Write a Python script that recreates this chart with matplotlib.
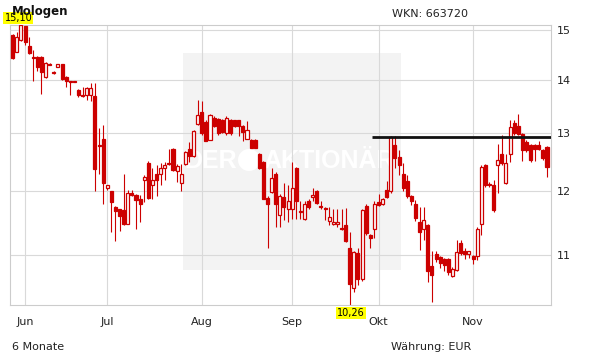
import numpy as np
import matplotlib
matplotlib.use("Agg")
import matplotlib.pyplot as plt
from matplotlib.patches import Rectangle, Ellipse

plt.rcParams['font.family'] = ['DejaVu Sans']

title = "Mologen"
wkn = "WKN: 663720"
period = "6 Monate"
currency = "Währung: EUR"

opens = [14.90, 14.55, 14.80, 15.08, 14.66, 14.44, 14.44, 14.44, 14.05, 14.31,
         14.16, 14.25, 14.30, 14.06, 13.97, 13.97, 13.80, 13.71, 13.70, 13.70,
         13.69, 12.79, 12.90, 12.05, 12.00, 11.75, 11.71, 11.70, 11.48, 11.97,
         11.94, 11.87, 12.19, 12.48, 12.10, 12.30, 12.29, 12.40, 12.48, 12.72,
         12.34, 12.14, 12.47, 12.73, 12.60, 13.18, 13.40, 13.20, 12.89, 13.29,
         13.27, 13.25, 13.00, 13.24, 13.24, 13.24, 13.14, 12.91, 12.89, 12.89,
         12.63, 12.50, 11.90, 11.99, 12.30, 11.62, 11.91, 11.72, 11.72, 12.39,
         11.66, 11.55, 11.85, 11.91, 12.01, 11.77, 11.73, 11.52, 11.48, 11.47,
         11.41, 11.45, 11.10, 10.51, 11.03, 10.63, 11.77, 11.30, 11.40, 11.82,
         11.80, 12.02, 12.00, 12.79, 12.58, 12.30, 12.18, 11.92, 11.80, 11.51,
         11.39, 11.45, 10.82, 11.01, 10.96, 10.93, 10.93, 10.68, 10.77, 11.17,
         11.05, 11.01, 10.98, 10.98, 11.48, 12.44, 12.12, 12.11, 12.45, 12.64,
         12.14, 12.64, 13.19, 13.14, 12.99, 12.85, 12.79, 12.79, 12.79, 12.70,
         12.76]
highs = [14.92, 14.96, 15.10, 15.10, 14.86, 14.58, 14.46, 14.46, 14.34, 14.33,
         14.18, 14.31, 14.31, 14.07, 13.98, 13.98, 13.83, 13.86, 13.86, 13.94,
         13.94, 13.10, 13.15, 12.11, 12.01, 11.77, 11.72, 12.30, 12.02, 12.02,
         11.96, 11.94, 12.28, 12.51, 12.40, 12.45, 12.48, 12.50, 12.73, 12.75,
         12.46, 12.47, 12.69, 12.85, 13.06, 13.61, 13.59, 13.24, 13.36, 13.31,
         13.29, 13.27, 13.31, 13.26, 13.25, 13.25, 13.16, 13.22, 12.90, 12.90,
         12.65, 12.52, 11.93, 12.39, 12.32, 11.96, 12.14, 12.10, 12.50, 12.41,
         11.85, 11.85, 11.88, 12.05, 12.03, 11.84, 11.75, 11.74, 11.72, 11.72,
         11.72, 11.73, 11.34, 11.06, 11.10, 11.72, 11.80, 11.32, 11.84, 11.96,
         11.90, 12.18, 12.95, 12.95, 12.70, 12.48, 12.27, 11.95, 11.86, 11.74,
         11.74, 11.47, 11.05, 11.06, 10.98, 10.95, 10.95, 10.81, 11.22, 11.22,
         11.10, 11.06, 10.99, 11.42, 12.44, 12.46, 12.15, 12.20, 12.82, 12.98,
         12.64, 13.24, 13.24, 13.36, 13.01, 12.88, 12.81, 12.81, 12.86, 12.72,
         12.78]
lows = [14.41, 14.54, 14.78, 14.68, 14.51, 13.98, 14.18, 13.72, 14.03, 14.28,
        14.12, 14.24, 14.00, 13.87, 13.70, 13.95, 13.68, 13.68, 13.61, 13.59,
        12.00, 12.30, 11.80, 12.03, 11.35, 11.20, 11.37, 11.46, 11.47, 11.92,
        11.40, 11.51, 11.83, 11.88, 11.88, 11.93, 12.10, 12.20, 12.45, 12.34,
        12.15, 12.00, 12.45, 12.50, 12.58, 13.15, 12.98, 12.86, 12.88, 13.12,
        12.98, 13.00, 12.98, 12.98, 13.12, 12.95, 12.87, 12.90, 12.74, 12.74,
        12.38, 11.87, 11.10, 11.98, 11.43, 11.42, 11.53, 11.50, 11.55, 11.56,
        11.55, 11.53, 11.72, 11.85, 11.79, 11.71, 11.54, 11.45, 11.46, 11.43,
        11.38, 11.19, 10.26, 10.45, 10.55, 10.60, 11.30, 11.10, 11.25, 11.76,
        11.78, 11.89, 11.98, 12.40, 12.27, 12.00, 11.90, 11.78, 11.52, 11.07,
        11.22, 10.59, 10.30, 10.88, 10.80, 10.75, 10.70, 10.66, 10.75, 11.00,
        10.93, 10.95, 10.85, 10.92, 11.30, 12.08, 12.08, 11.67, 11.97, 12.45,
        12.12, 12.50, 12.98, 12.97, 12.52, 12.68, 12.50, 12.52, 12.71, 12.54,
        12.24]
closes = [14.43, 14.86, 15.10, 14.76, 14.52, 14.42, 14.24, 14.16, 14.32, 14.29,
          14.13, 14.30, 14.02, 13.97, 13.96, 13.96, 13.70, 13.69, 13.85, 13.85,
          12.38, 12.78, 12.14, 12.10, 11.83, 11.68, 11.60, 11.48, 11.98, 11.94,
          11.86, 11.79, 12.25, 11.90, 12.20, 12.20, 12.40, 12.45, 12.46, 12.36,
          12.43, 12.29, 12.67, 12.60, 13.04, 13.34, 13.00, 12.87, 13.34, 13.14,
          13.00, 13.02, 13.29, 13.00, 13.14, 13.14, 13.02, 13.07, 12.75, 12.75,
          12.40, 11.88, 11.80, 12.22, 11.80, 11.93, 11.74, 11.85, 12.05, 11.85,
          11.68, 11.79, 11.75, 11.95, 11.81, 11.74, 11.71, 11.59, 11.51, 11.51,
          11.39, 11.21, 10.56, 11.04, 10.63, 11.69, 11.33, 11.26, 11.80, 11.78,
          11.88, 11.91, 12.94, 12.57, 12.44, 12.05, 11.92, 11.84, 11.57, 11.35,
          11.53, 10.76, 10.69, 10.94, 10.87, 10.84, 10.74, 10.79, 11.04, 11.02,
          11.01, 11.05, 10.93, 11.39, 12.42, 12.10, 12.10, 11.69, 12.54, 12.48,
          12.48, 13.11, 13.00, 12.99, 12.70, 12.70, 12.54, 12.73, 12.73, 12.56,
          12.41]

month_labels = ["Jun", "Jul", "Aug", "Sep", "Okt", "Nov"]
month_start_idx = [3, 23, 46, 68, 89, 112]
y_ticks = [11, 12, 13, 14, 15]
resistance = 12.93
resistance_start_idx = 87.4

RED = "#cc0000"
W, H = 611, 364
fig = plt.figure(figsize=(W / 100, H / 100), dpi=100)
ax = fig.add_axes([10 / W, (H - 305) / H, 541 / W, 280 / H])

o = np.array(opens); h = np.array(highs); l = np.array(lows); c = np.array(closes)
x = np.arange(len(o))
up = c >= o

ax.set_yscale('log')
ax.vlines(x, l, h, color=RED, lw=0.8, zorder=2)
bottoms = np.minimum(o, c)
heights = np.maximum(np.abs(c - o), 0.012)
ax.bar(x[up], heights[up], bottom=bottoms[up], width=0.74, facecolor="white",
       edgecolor=RED, linewidth=0.9, zorder=3)
ax.bar(x[~up], heights[~up], bottom=bottoms[~up], width=0.74, facecolor=RED,
       edgecolor=RED, linewidth=0.9, zorder=3)

xmax = len(o) - 1 + 0.97
ax.set_xlim(-0.66, xmax)
ax.set_ylim(min(lows), max(highs))

ax.hlines(resistance, resistance_start_idx, xmax, color="#111111", lw=2.0, zorder=4)

# watermark (drawn inside the axes, beneath the grid and candles)
ax.add_patch(Rectangle((183 / W, 1 - 270 / H), 218 / W, 217.5 / H,
                       transform=fig.transFigure, facecolor="#f3f3f3",
                       edgecolor="none", zorder=0.1))
ax.text(211 / W, 1 - 161 / H, "DER", color="white", fontsize=18, fontweight="bold",
        family="Liberation Sans", ha="center", va="center", zorder=0.3,
        transform=fig.transFigure)
ax.text(329 / W, 1 - 161 / H, "AKTIONÄR", color="white", fontsize=18, fontweight="bold",
        family="Liberation Sans", ha="center", va="center", zorder=0.3,
        transform=fig.transFigure)
ax.add_patch(Ellipse((249 / W, 1 - 160 / H), 22 / W, 22 / H,
                     transform=fig.transFigure, facecolor="white",
                     edgecolor="none", zorder=0.3))

ax.set_axisbelow(True)
ax.grid(True, color="#d9d9d9", lw=0.8)
ax.yaxis.tick_right()
ax.set_yticks(y_ticks)
ax.set_yticklabels([str(v) for v in y_ticks])
ax.yaxis.set_minor_locator(matplotlib.ticker.NullLocator())
ax.set_xticks(month_start_idx)
ax.set_xticklabels(month_labels)
ax.tick_params(axis="y", length=0, pad=4.3, labelsize=8, labelcolor="#222222")
ax.tick_params(axis="x", length=0, pad=8.5, labelsize=8, labelcolor="#222222")
for s in ax.spines.values():
    s.set_color("#cccccc")
    s.set_linewidth(0.8)

# high / low labels
imax = int(np.argmax(h)); imin = int(np.argmin(l))
box = dict(boxstyle="square,pad=0.12", fc="#ffff00", ec="none")
ax.annotate(f"{h[imax]:.2f}".replace(".", ","), (imax, h[imax]), xytext=(-2.5, 2),
            textcoords="offset pixels", ha="center", va="bottom", fontsize=7,
            bbox=box, zorder=10, annotation_clip=False)
ax.annotate(f"{l[imin]:.2f}".replace(".", ","), (imin, l[imin]), xytext=(1.5, -3),
            textcoords="offset pixels", ha="center", va="top", fontsize=7,
            bbox=box, zorder=10, annotation_clip=False)

fig.text(12 / W, 1 - 11 / H, title, fontsize=8.5, fontweight="bold", ha="left",
         va="center", color="#111111", zorder=1)
fig.text(392 / W, 1 - 14 / H, wkn, fontsize=8, ha="left", va="center", color="#222222")
fig.text(12 / W, 1 - 347 / H, period, fontsize=8, ha="left", va="center", color="#222222")
fig.text(391 / W, 1 - 347 / H, currency, fontsize=8, ha="left", va="center", color="#222222")

fig.savefig("out.png", dpi=100)
